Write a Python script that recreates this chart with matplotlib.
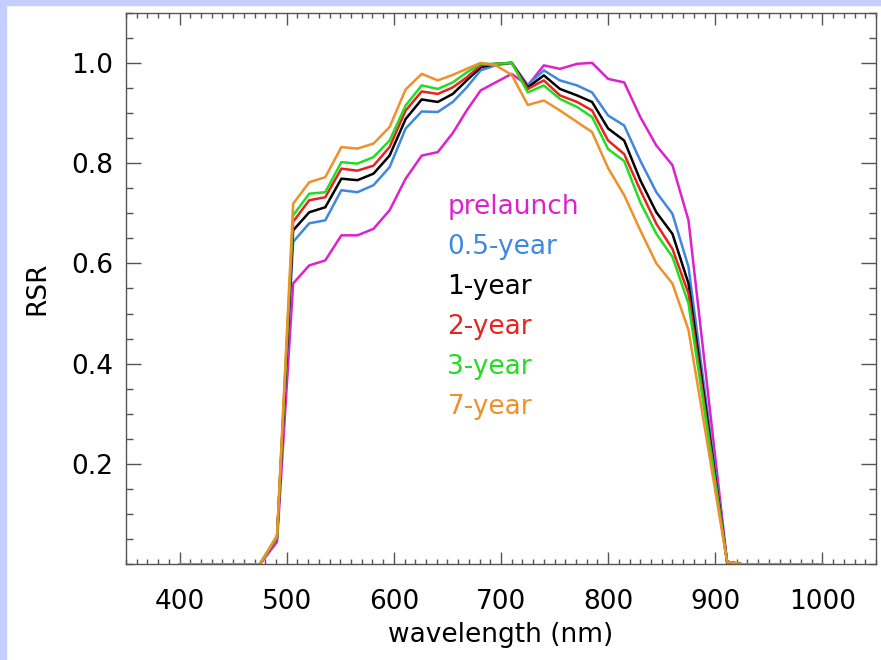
import matplotlib
matplotlib.use("Agg")
import matplotlib.pyplot as plt
from matplotlib.patches import Rectangle
from matplotlib.ticker import MultipleLocator

# wavelength grid (nm)
wl = [400, 475, 491, 506, 521, 536, 551, 566, 581, 596, 611, 626, 641, 655, 668, 681,
      695, 710, 725, 740, 755, 771, 785, 800, 815, 830, 845, 860, 875, 911, 925, 1000]

prelaunch = [0, 0, 0.045, 0.560, 0.596, 0.606, 0.656, 0.656, 0.669, 0.706, 0.769, 0.815,
             0.822, 0.860, 0.905, 0.945, 0.961, 0.978, 0.955, 0.995, 0.988, 0.998, 1.000,
             0.968, 0.961, 0.892, 0.835, 0.796, 0.686, 0.005, 0, 0]
year_05 = [0, 0, 0.055, 0.643, 0.680, 0.686, 0.746, 0.742, 0.756, 0.792, 0.869, 0.903,
           0.902, 0.922, 0.951, 0.985, 0.995, 1.000, 0.956, 0.985, 0.965, 0.955, 0.941,
           0.895, 0.875, 0.805, 0.742, 0.699, 0.593, 0.005, 0, 0]
year_1 = [0, 0, 0.055, 0.666, 0.702, 0.712, 0.769, 0.766, 0.779, 0.815, 0.888, 0.927,
          0.922, 0.938, 0.965, 0.991, 0.998, 1.000, 0.951, 0.975, 0.948, 0.935, 0.922,
          0.869, 0.845, 0.766, 0.702, 0.659, 0.560, 0.005, 0, 0]
year_2 = [0, 0, 0.055, 0.683, 0.726, 0.732, 0.789, 0.785, 0.795, 0.832, 0.905, 0.943,
          0.938, 0.951, 0.971, 0.995, 0.998, 1.000, 0.948, 0.965, 0.935, 0.922, 0.905,
          0.845, 0.818, 0.746, 0.679, 0.629, 0.540, 0.005, 0, 0]
year_3 = [0, 0, 0.055, 0.696, 0.739, 0.742, 0.802, 0.799, 0.812, 0.845, 0.915, 0.955,
          0.948, 0.961, 0.981, 0.998, 0.998, 1.000, 0.941, 0.955, 0.928, 0.912, 0.892,
          0.828, 0.804, 0.722, 0.659, 0.613, 0.520, 0.005, 0, 0]
year_7 = [0, 0, 0.058, 0.719, 0.762, 0.772, 0.832, 0.829, 0.839, 0.872, 0.947, 0.978,
          0.965, 0.976, 0.988, 1.000, 0.995, 0.976, 0.916, 0.925, 0.905, 0.882, 0.862,
          0.790, 0.736, 0.666, 0.600, 0.560, 0.467, 0.005, 0, 0]

labels = ["prelaunch", "0.5-year", "1-year", "2-year", "3-year", "7-year"]
colors = ["#DD22CC", "#3F88E0", "#000000", "#E8231F", "#22DD22", "#F0902A"]
series = [prelaunch, year_05, year_1, year_2, year_3, year_7]

fig = plt.figure(figsize=(8.81, 6.6), dpi=100)
# light blue frame strips on the left and top
fig.patches.append(Rectangle((0, 0), 6 / 881, 1, transform=fig.transFigure,
                             color="#C4CEFF", zorder=0))
fig.patches.append(Rectangle((0, 1 - 5 / 660), 1, 5 / 660, transform=fig.transFigure,
                             color="#C4CEFF", zorder=0))

ax = fig.add_axes([126 / 881, (660 - 564.3) / 660, 750 / 881, 551.6 / 660])

for y, c in zip(series, colors):
    ax.plot(wl, y, color=c, lw=1.8)

ax.set_xlim(350, 1050)
ax.set_ylim(0, 1.1)
ax.set_xticks([400, 500, 600, 700, 800, 900, 1000])
ax.set_yticks([0.2, 0.4, 0.6, 0.8, 1.0])
ax.set_yticklabels(["0.2", "0.4", "0.6", "0.8", "1.0"])
ax.xaxis.set_minor_locator(MultipleLocator(10))
ax.yaxis.set_minor_locator(MultipleLocator(0.05))

for s in ax.spines.values():
    s.set_color("#555555")
    s.set_linewidth(1.0)

ax.tick_params(axis="x", which="major", direction="in", top=True, length=8.5, width=1,
               color="#555555", labelsize=19, pad=18)
ax.tick_params(axis="x", which="minor", direction="in", top=True, length=3.8, width=1,
               color="#555555")
ax.tick_params(axis="y", which="major", direction="in", right=True, length=11, width=1,
               color="#555555", labelsize=19, pad=9)
ax.tick_params(axis="y", which="minor", direction="in", right=True, length=5.3, width=1,
               color="#555555")

ax.set_xlabel("wavelength (nm)", fontsize=19, labelpad=5)
ax.set_ylabel("RSR", fontsize=19, labelpad=15)

# coloured text labels used as legend
for i, (lab, c) in enumerate(zip(labels, colors)):
    ax.text(650, 0.698 - 0.0797 * i, lab, color=c, fontsize=19, va="baseline", ha="left")

fig.savefig("out.png", dpi=100)
